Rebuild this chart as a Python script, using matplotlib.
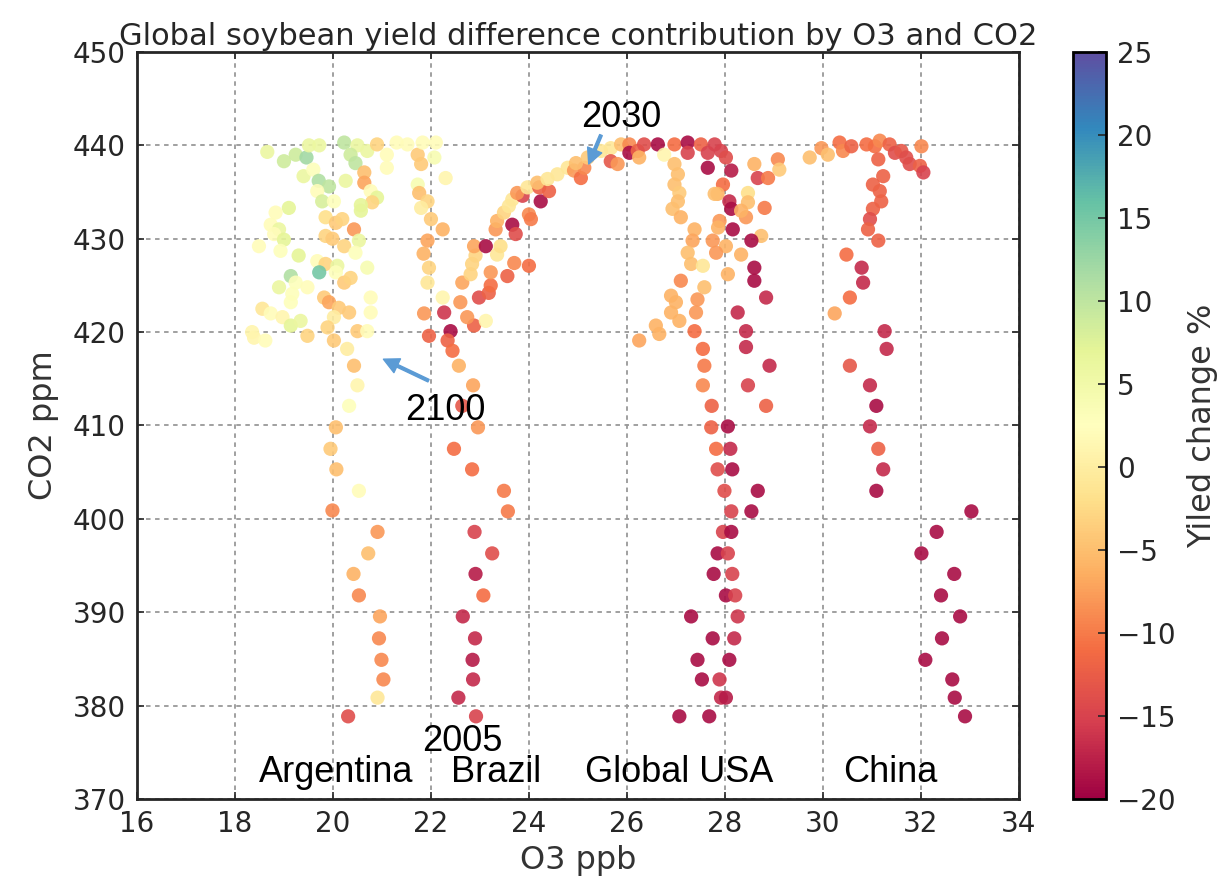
import matplotlib
matplotlib.use("Agg")
import matplotlib.pyplot as plt
from matplotlib.colors import Normalize
from matplotlib.cm import ScalarMappable

# O3 (ppb), CO2 (ppm) and yield change (%) per region, 2005 -> 2030 -> 2100
arg_o3 = [18.66, 19.0, 19.24, 19.46, 19.51, 19.72, 20.23, 20.5, 20.36, 20.46, 20.7, 20.9, 21.1, 21.3, 21.52,
          20.64, 20.64, 20.77, 20.9, 20.8, 21.1, 19.4, 19.6, 19.71, 19.92, 19.68, 19.78, 20.02, 20.26, 19.1,
          18.83, 18.73, 18.9, 18.8, 19.0, 18.49, 18.93, 19.3, 19.85, 20.06, 20.19, 20.43, 20.57, 20.57, 19.85,
          19.99, 20.23, 20.53, 20.46, 20.7, 19.68, 19.85, 20.09, 19.72, 20.06, 19.14, 19.24, 18.9, 19.48, 19.17,
          19.14, 20.23, 20.36, 19.82, 19.92, 20.12, 20.33, 20.02, 20.77, 20.77, 18.56, 18.73, 18.97, 19.14, 19.34,
          18.35, 18.39, 18.62, 19.48, 19.89, 20.02, 20.5, 20.7, 20.29, 20.43, 20.5, 20.33, 20.06, 19.95, 20.07,
          20.53, 19.99, 20.91, 20.72, 20.42, 20.53, 20.96, 20.94, 20.99, 21.03, 20.91, 20.31]
arg_co2 = [439.3, 438.3, 439.0, 438.7, 440.0, 440.0, 440.3, 440.0, 439.0, 438.1, 439.4, 440.1, 439.0, 440.3, 440.1,
           437.1, 436.0, 435.1, 434.4, 433.9, 437.6, 436.7, 437.4, 436.2, 435.6, 435.1, 434.0, 434.0, 436.2, 433.3,
           432.8, 431.5, 431.0, 430.5, 429.9, 429.2, 428.7, 428.2, 432.3, 431.7, 432.1, 431.0, 433.0, 433.6, 430.3,
           430.0, 429.2, 429.8, 428.5, 426.9, 427.6, 427.3, 427.1, 426.4, 426.4, 426.0, 425.3, 424.8, 424.8, 424.1,
           423.2, 425.3, 425.8, 423.7, 423.2, 422.6, 422.1, 421.6, 423.7, 422.1, 422.5, 422.0, 421.6, 420.7, 421.2,
           420.0, 419.4, 419.1, 419.6, 420.5, 419.1, 420.1, 420.1, 418.2, 416.4, 414.3, 412.1, 409.8, 407.5, 405.3,
           403.0, 400.9, 398.6, 396.3, 394.1, 391.8, 389.55, 387.2, 384.9, 382.8, 380.85, 378.85]
arg_yld = [6, 9, 9, 12, 6, 6, 10, 6, 9, 10, 6, -3, 2, 2, 2,
           -5, -7, 2, 7, -3, 2, 6, 3, 11, 10, 2, 8, 3, 6, 7,
           2, 2, 6, 2, 7, 2, 3, 7, -2, -4, -3, -8, 7, 7, -3,
           -4, -3, 6, 3, 4, 2, -3, 6, 15, 3, 11, 3, 6, 2, 3,
           3, -4, -3, -4, -7, -4, -4, 0, 2, 2, -1, 2, 1, 7, 6,
           1, 1, 2, -3, -3, -4, -4, 2, 0, -5, 1, 3, -5, -4, -5,
           2, -9, -8, -5, -6, -9, -7, -9, -9, -9, -1, -14]

bra_o3 = [21.73, 21.83, 22.1, 22.07, 21.8, 21.73, 21.76, 21.93, 21.8, 22.0, 22.24, 22.3, 21.93, 21.85, 21.96,
          21.93, 22.24, 21.86, 22.27, 21.96, 22.4, 22.34, 22.44, 22.88, 23.12, 22.74, 22.6, 22.64, 22.98, 23.18,
          23.22, 22.81, 23.22, 22.84, 22.91, 22.88, 23.12, 23.35, 23.42, 23.56, 23.7, 24.0, 23.32, 23.35, 23.66,
          23.73, 23.49, 23.59, 23.66, 23.87, 24.0, 24.04, 23.76, 23.97, 24.24, 24.21, 24.41, 24.17, 24.38, 24.58,
          24.79, 24.92, 25.06, 25.13, 24.96, 25.2, 25.47, 25.67, 25.88, 25.67, 25.81, 22.57, 22.86, 22.64, 22.96,
          22.47, 22.84, 23.49, 23.57, 22.89, 23.25, 22.91, 23.07, 22.65, 22.9, 22.85, 22.86, 22.56, 22.92]
bra_co2 = [439.0, 440.3, 440.3, 438.7, 438.0, 435.8, 434.9, 434.0, 433.3, 432.1, 431.0, 436.5, 429.8, 428.4, 426.9,
           425.3, 423.7, 422.0, 422.1, 419.6, 420.1, 419.1, 418.0, 420.7, 421.2, 421.6, 423.2, 425.3, 423.7, 424.2,
           425.0, 426.2, 426.4, 427.3, 428.2, 429.2, 429.2, 428.3, 429.2, 426.0, 427.4, 427.1, 431.0, 431.9, 431.5,
           430.5, 432.8, 433.5, 434.2, 434.6, 432.6, 432.1, 434.9, 435.5, 434.0, 435.5, 435.1, 436.0, 436.4, 436.9,
           437.6, 437.3, 436.5, 437.6, 438.1, 438.7, 439.4, 439.7, 440.1, 438.3, 438.0, 416.4, 414.3, 412.1, 409.8,
           407.5, 405.3, 403.0, 400.8, 398.6, 396.3, 394.1, 391.8, 389.55, 387.2, 384.9, 382.8, 380.85, 378.85]
bra_yld = [-4, 2, 2, 4, -4, 4, -5, -3, 0, -4, -6, 1, -7, -6, -3,
           -1, 1, -8, -16, -12, -19, -12, -11, -12, 1, -8, -8, -7, -14, -12,
           -11, -3, -8, -3, -3, -7, -19, -1, -2, -12, -9, -11, -8, -6, -19,
           -14, -3, -1, -1, -15, -9, -10, -8, -1, -19, -12, -12, -5, -1, -1,
           -1, -8, -11, -9, -5, -4, -1, -1, -5, -13, -8, -6, -7, -13, -8,
           -11, -11, -10, -10, -15, -14, -18, -11, -17, -17, -18, -17, -17, -15]

usa_o3 = [26.05, 26.05, 26.22, 26.35, 26.25, 26.63, 26.76, 26.97, 27.24, 27.24, 27.51, 27.65, 27.65, 27.79, 27.92,
          28.02, 28.13, 27.96, 27.85, 28.09, 28.13, 27.89, 28.16, 28.02, 28.33, 28.06, 28.47, 28.47, 28.43, 28.33,
          28.6, 28.67, 28.88, 29.08, 29.11, 28.81, 28.74, 28.54, 28.6, 28.6, 28.84, 28.26, 28.43, 28.43, 28.91,
          26.97, 27.04, 26.97, 27.07, 27.04, 26.93, 27.1, 27.38, 27.34, 27.24, 27.31, 27.55, 27.1, 26.9, 27.0,
          26.9, 27.07, 26.59, 26.66, 26.25, 27.44, 27.58, 27.41, 27.38, 27.55, 27.58, 27.79, 27.86, 27.75, 27.82,
          27.55, 27.73, 27.72, 27.82, 27.85, 28.06, 28.11, 28.15, 27.99, 28.67, 28.13, 28.54, 27.96, 28.13, 27.85,
          28.06, 27.77, 28.15, 28.02, 28.21, 28.47, 28.84, 27.31, 28.26, 27.75, 28.19, 27.44, 28.09, 27.53, 27.89,
          27.92, 28.02, 27.07, 27.68]
usa_co2 = [440.1, 439.2, 439.4, 440.1, 438.7, 440.1, 439.0, 440.1, 440.3, 439.2, 440.1, 439.2, 437.6, 440.1, 439.4,
           438.7, 437.3, 435.8, 434.8, 434.0, 433.2, 431.9, 431.0, 429.2, 428.3, 426.2, 434.9, 433.9, 432.3, 433.0,
           438.0, 436.5, 436.5, 438.5, 437.4, 433.3, 430.3, 429.8, 426.9, 425.5, 423.7, 422.1, 420.1, 418.4, 416.4,
           438.0, 436.9, 435.8, 434.9, 434.0, 433.2, 432.3, 431.0, 429.8, 428.5, 427.3, 427.1, 425.5, 423.9, 423.2,
           422.1, 421.2, 420.7, 419.8, 419.1, 423.5, 424.8, 422.1, 420.1, 418.2, 416.4, 434.8, 431.2, 429.8, 428.5,
           414.3, 412.1, 409.8, 407.5, 405.3, 409.9, 407.5, 405.3, 403.0, 403.0, 400.8, 400.8, 398.6, 398.6, 396.3,
           396.3, 394.1, 394.1, 391.8, 391.8, 414.3, 412.1, 389.55, 389.55, 387.2, 387.2, 384.9, 384.9, 382.8, 382.8,
           380.85, 380.85, 378.85, 378.85]
usa_yld = [-9, -19, -12, -14, -6, -19, 1, -11, -19, -15, -12, -15, -19, -15, -15,
           -14, -18, -11, -6, -17, -19, -8, -19, -6, -6, -6, -2, -5, -8, -6,
           -6, -15, -10, -9, -4, -10, -5, -19, -19, -19, -17, -17, -17, -17, -17,
           -5, -5, -5, -4, -5, -5, -6, -6, -7, -5, -5, -1, -9, -6, -6,
           -6, -6, -6, -6, -7, -8, -5, -8, -11, -11, -10, -5, -6, -8, -8,
           -9, -12, -12, -11, -14, -19, -17, -19, -14, -19, -15, -19, -15, -19, -19,
           -15, -19, -15, -19, -15, -15, -12, -19, -16, -19, -17, -19, -19, -19, -16,
           -17, -18, -19, -19]

chn_o3 = [29.73, 29.97, 30.1, 30.34, 30.41, 30.58, 30.89, 31.06, 31.16, 31.13, 31.36, 31.47, 31.6, 31.7, 31.77,
          31.98, 32.05, 32.01, 31.23, 31.02, 31.16, 31.19, 31.02, 30.96, 30.92, 31.13, 30.48, 30.79, 30.82, 30.55,
          30.24, 31.26, 31.3, 30.55, 30.96, 31.09, 30.96, 31.13, 31.23, 31.09, 33.03, 32.32, 32.01, 32.68, 32.41,
          32.8, 32.43, 32.09, 32.64, 32.69, 32.9]
chn_co2 = [438.7, 439.7, 439.0, 440.3, 439.4, 439.9, 440.1, 439.9, 440.5, 438.5, 440.1, 439.2, 439.4, 438.7, 438.0,
           437.8, 437.1, 439.9, 436.7, 435.8, 435.1, 434.0, 433.2, 432.1, 431.0, 429.8, 428.3, 426.9, 425.3, 423.7,
           422.0, 420.1, 418.2, 416.4, 414.3, 412.1, 409.9, 407.5, 405.3, 403.0, 400.8, 398.6, 396.3, 394.1, 391.8,
           389.55, 387.2, 384.9, 382.8, 380.85, 378.85]
chn_yld = [-5, -8, -5, -11, -9, -12, -11, -11, -9, -12, -12, -14, -13, -14, -14,
           -12, -15, -9, -12, -12, -12, -12, -12, -14, -12, -12, -11, -17, -17, -11,
           -7, -17, -17, -13, -17, -19, -17, -12, -17, -19, -19, -19, -19, -19, -19,
           -19, -19, -19, -19, -19, -19]

regions = ["Argentina", "Brazil", "Global USA", "China"]
region_x = [20.07, 23.32, 27.06, 31.37]

o3 = arg_o3 + bra_o3 + usa_o3 + chn_o3
co2 = arg_co2 + bra_co2 + usa_co2 + chn_co2
yld = arg_yld + bra_yld + usa_yld + chn_yld

plt.rcParams['font.family'] = ['DejaVu Sans']
fig = plt.figure(figsize=(12.26, 8.84), dpi=100)
ax = fig.add_axes([0.1117, 0.0962, 0.7194, 0.845])
cax = fig.add_axes([0.8752, 0.0962, 0.0270, 0.845])

norm = Normalize(vmin=-20, vmax=25)
cmap = plt.get_cmap('Spectral')
ax.scatter(o3, co2, c=yld, cmap=cmap, norm=norm, s=105, alpha=0.9, linewidths=0, zorder=3)

ax.set_xlim(16, 34)
ax.set_ylim(370, 450)
ax.set_xticks(range(16, 35, 2))
ax.set_yticks(range(370, 451, 10))
ax.grid(True, color='0.6', linestyle=(0, (2.5, 2.5)), linewidth=1.3, zorder=0)
ax.tick_params(direction='in', top=True, right=True, length=5, width=1.2, labelsize=20, pad=8, colors='0.15')
for sp in ax.spines.values():
    sp.set_linewidth(2)
    sp.set_color('0.15')

ax.set_xlabel('O3 ppb', fontsize=23, color='0.2', labelpad=5)
ax.set_ylabel('CO2 ppm', fontsize=23, color='0.2', labelpad=10)
ax.set_title('Global soybean yield difference contribution by O3 and CO2', fontsize=22, color='0.15', pad=5)

lab_font = dict(family='Liberation Sans', fontsize=26, color='black')
for name, xr in zip(regions, region_x):
    ax.text(xr, 371.8, name, ha='center', va='baseline', zorder=5, **lab_font)
ax.text(21.83, 375.1, '2005', ha='left', va='baseline', zorder=5, **lab_font)
ax.text(21.48, 410.6, '2100', ha='left', va='baseline', zorder=5, **lab_font)
ax.text(25.06, 442.0, '2030', ha='left', va='baseline', zorder=5, **lab_font)

arrow = dict(facecolor='#5b9bd5', edgecolor='#5b9bd5', width=2, headwidth=11, headlength=11, shrink=0)
ax.annotate('', xy=(21.03, 417.1), xytext=(21.95, 414.8), arrowprops=arrow, zorder=6)
ax.annotate('', xy=(25.22, 438.0), xytext=(25.47, 441.1), arrowprops=arrow, zorder=6)

sm = ScalarMappable(norm=norm, cmap=cmap)
cb = fig.colorbar(sm, cax=cax, ticks=range(-20, 26, 5))
cb.outline.set_linewidth(2)
cb.ax.tick_params(direction='in', length=6, width=1.2, labelsize=20, pad=8, colors='0.15')
cb.set_label('Yiled change %', fontsize=23, color='0.2', labelpad=8)

fig.savefig('out.png', dpi=100, facecolor='white')
